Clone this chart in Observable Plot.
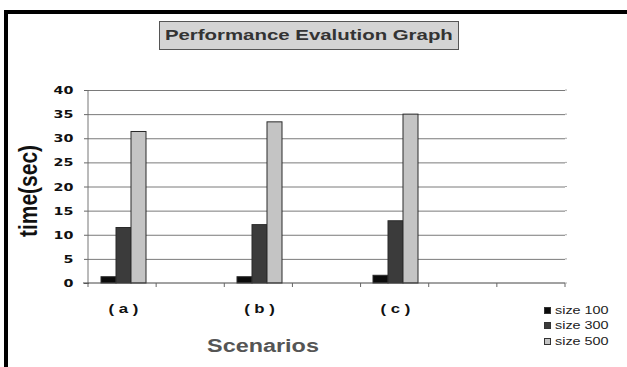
<!DOCTYPE html>
<html>
<head>
<meta charset="utf-8">
<script src="https://cdn.jsdelivr.net/npm/d3@7"></script>
<script src="https://cdn.jsdelivr.net/npm/@observablehq/plot@0.6"></script>
<style>
  html, body { margin: 0; padding: 0; background: #fff; }
  #wrap { position: relative; width: 627px; height: 367px; overflow: hidden; font-family: "Liberation Sans", Arial, sans-serif; }
  #frame { position: absolute; left: 4px; top: 10px; width: 700px; height: 400px; border-left: 4px solid #000; border-top: 4px solid #000; }
  #chart { position: absolute; left: 0; top: 0; }
  #title { position: absolute; left: 159px; top: 21px; width: 300px; height: 29px; box-sizing: border-box;
           background: #d4d4d4; border: 1px solid #555; text-align: center; line-height: 26px; }
  #title span { display: inline-block; font-weight: bold; font-size: 15px; color: #333; transform: scaleX(1.36); }
  #ylab { position: absolute; left: 29px; top: 191px; width: 0; height: 0; }
  #ylab span { position: absolute; white-space: nowrap; font-weight: bold; font-size: 21px; color: #111;
               transform: translate(-50%, -50%) rotate(-90deg) scale(1, 1.2); }
  #xlab { position: absolute; left: 263px; top: 346px; width: 0; height: 0; }
  #xlab span { position: absolute; white-space: nowrap; font-weight: bold; font-size: 18px; color: #555;
               transform: translate(-50%, -50%) scaleX(1.3); }
  .leg { position: absolute; left: 544px; height: 0; }
  .leg i { position: absolute; left: 0; top: -4px; width: 7px; height: 7px; box-sizing: border-box; border: 1px solid #333; }
  .leg span { position: absolute; left: 11px; top: -7px; white-space: nowrap; font-size: 11.5px; color: #222;
              transform-origin: 0 50%; transform: scaleX(1.25); line-height: 13px; }
</style>
</head>
<body>
<div id="wrap">
  <div id="frame"></div>
  <div id="chart"></div>
  <div id="title"><span></span></div>
  <div id="ylab"><span></span></div>
  <div id="xlab"><span></span></div>
</div>
<script>
// ---- data ----
const titleText = "Performance Evalution Graph";
const yLabel = "time(sec)";
const xLabel = "Scenarios";
const categories = ["a", "gap1", "b", "gap2", "c", "gap3", "gap4"];
const categoryLabels = {a: "( a )", b: "( b )", c: "( c )"};
const scenarios = ["a", "b", "c"];
const series = ["size 100", "size 300", "size 500"];
const size100 = [1.3, 1.3, 1.6];
const size300 = [11.5, 12.1, 12.9];
const size500 = [31.4, 33.4, 35.0];
const yTicks = [0, 5, 10, 15, 20, 25, 30, 35, 40];
const colors = ["#0b0b0b", "#3b3b3b", "#c4c4c4"];

const values = [size100, size300, size500];
const data = scenarios.flatMap((s, i) => series.map((k, j) => ({scenario: s, size: k, time: values[j][i]})));
const gridData = categories.flatMap(c => yTicks.filter(v => v > 0).map(v => ({cat: c, v})));

const svg = Plot.plot({
  width: 627, height: 367,
  marginLeft: 88, marginRight: 62, marginTop: 90, marginBottom: 84,
  style: {background: "transparent", color: "#000"},
  fx: {domain: categories, padding: 0, axis: "bottom", tickSize: 0, tickPadding: 21,
       tickFormat: d => categoryLabels[d] ?? "", label: null},
  x: {domain: series, paddingInner: 0, paddingOuter: 0.72, axis: null},
  y: {domain: [0, 40], ticks: yTicks, tickSize: 5, tickPadding: 11, label: null},
  color: {domain: series, range: colors},
  marks: [
    Plot.ruleY(gridData, {fx: "cat", y: "v", stroke: "#7a7a7a", strokeWidth: 1}),
    Plot.barY(data, {fx: "scenario", x: "size", y: "time", fill: "size", stroke: "#2a2a2a", strokeWidth: 1})
  ]
});
document.getElementById("chart").appendChild(svg);

// ---- styling of axis text ----
function stretch(el, s) {
  const x = +(el.getAttribute("x") || 0);
  const t = el.getAttribute("transform") || "";
  el.setAttribute("transform", `${t} translate(${x},0) scale(${s},1) translate(${-x},0)`);
}
const S = d3.select(svg);
S.selectAll('g[aria-label^="y-axis"] text').each(function () {
  this.style.font = "bold 11px 'DejaVu Sans'";
  this.style.fill = "#111";
  stretch(this, 1.3);
});
S.selectAll('g[aria-label^="y-axis"] line, g[aria-label^="y-axis"] path').attr("stroke", "#666");
S.selectAll('g[aria-label^="fx-axis"] text').each(function () {
  this.style.font = "bold 12px 'Liberation Sans'";
  this.style.fill = "#111";
  stretch(this, 1.4);
});

// ---- axis lines and category ticks from the library's scales ----
const fx = svg.scale("fx");
const ys = svg.scale("y");
const band = d3.scaleBand().domain(fx.domain).range(fx.range).padding(0);
const y0 = ys.apply(0), y40 = ys.apply(40);
const x0 = fx.range[0], x1 = fx.range[1];
const g = S.append("g");
g.append("line").attr("x1", x0).attr("x2", x0).attr("y1", y40).attr("y2", y0).attr("stroke", "#777");
g.append("line").attr("x1", x0 - 5).attr("x2", x1).attr("y1", y0).attr("y2", y0).attr("stroke", "#444");
const edges = fx.domain.map(d => band(d)).concat([x1]);
g.selectAll("line.t").data(edges).join("line").attr("class", "t")
  .attr("x1", d => d).attr("x2", d => d).attr("y1", y0).attr("y2", y0 + 4).attr("stroke", "#666");
g.selectAll("line.r").data(yTicks).join("line").attr("class", "r")
  .attr("x1", x1).attr("x2", x1 + 2).attr("y1", d => ys.apply(d)).attr("y2", d => ys.apply(d)).attr("stroke", "#aaa");

// ---- texts ----
document.querySelector("#title span").textContent = titleText;
document.querySelector("#ylab span").textContent = yLabel;
document.querySelector("#xlab span").textContent = xLabel;
const legTops = [311, 326, 342];
const wrap = document.getElementById("wrap");
series.forEach((s, i) => {
  const d = document.createElement("div");
  d.className = "leg";
  d.style.top = legTops[i] + "px";
  const sw = document.createElement("i");
  sw.style.background = colors[i];
  const t = document.createElement("span");
  t.textContent = s;
  d.appendChild(sw); d.appendChild(t);
  wrap.appendChild(d);
});
</script>
</body>
</html>
